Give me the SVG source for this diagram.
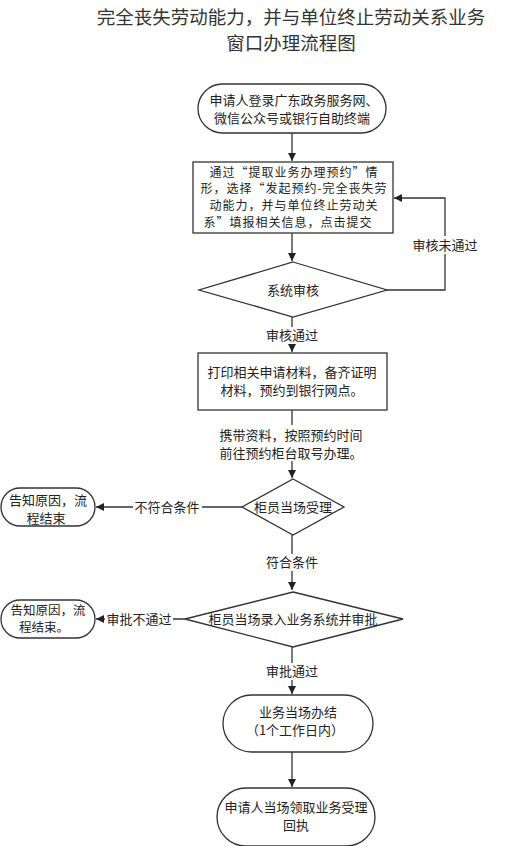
<svg xmlns="http://www.w3.org/2000/svg" width="525" height="846" viewBox="0 0 525 846">
<style>
text{font-family:"Noto Sans CJK SC","Noto Sans",sans-serif;fill:#222;font-size:13px;text-anchor:middle}
.title{font-size:18.5px;fill:#333}
.small{font-size:12px;letter-spacing:1px}
.shape{fill:#fff;stroke:#333;stroke-width:1.3}
.line{fill:none;stroke:#333;stroke-width:1.3}
.bg{fill:#fff}
</style>
<defs>
<marker id="arr" viewBox="0 0 10 10" refX="10" refY="5" markerWidth="8" markerHeight="8" markerUnits="userSpaceOnUse" orient="auto">
<path d="M0,0 L10,5 L0,10 z" fill="#222"/>
</marker>
</defs>
<rect width="525" height="846" fill="#fff"/>
<g id="title">
<text class="title"><tspan x="291" y="23.5">完全丧失劳动能力，并与单位终止劳动关系业务</tspan><tspan x="291" y="49.5">窗口办理流程图</tspan></text>
</g>
<g id="connectors">
<path class="line" d="M292,133 V161" marker-end="url(#arr)"/>
<path class="line" d="M292,233 V261" marker-end="url(#arr)"/>
<path class="line" d="M387,290 H445 V198 H394" marker-end="url(#arr)"/>
<path class="line" d="M292,317 V352" marker-end="url(#arr)"/>
<path class="line" d="M292,410 V478" marker-end="url(#arr)"/>
<path class="line" d="M242,507 H96" marker-end="url(#arr)"/>
<path class="line" d="M292,535 V590" marker-end="url(#arr)"/>
<path class="line" d="M185,619 H96" marker-end="url(#arr)"/>
<path class="line" d="M292,647 V694" marker-end="url(#arr)"/>
<path class="line" d="M292,752 V787" marker-end="url(#arr)"/>
<rect class="bg" x="411" y="236" width="68" height="18"/>
<text x="445" y="250">审核未通过</text>
<rect class="bg" x="265" y="327" width="54" height="17"/>
<text x="292" y="340">审核通过</text>
<rect class="bg" x="214" y="425" width="154" height="36"/>
<text><tspan x="291" y="440">携带资料，按照预约时间</tspan><tspan x="291" y="458">前往预约柜台取号办理。</tspan></text>
<rect class="bg" x="133" y="499" width="69" height="17"/>
<text x="167" y="512">不符合条件</text>
<rect class="bg" x="265" y="554" width="54" height="17"/>
<text x="292" y="567">符合条件</text>
<rect class="bg" x="105" y="611" width="68" height="17"/>
<text x="139" y="624">审批不通过</text>
<rect class="bg" x="265" y="663" width="54" height="17"/>
<text x="292" y="676">审批通过</text>
</g>
<g id="n1">
<rect class="shape" x="198" y="84" width="188" height="49" rx="24.5"/>
<text><tspan x="294" y="104.5">申请人登录广东政务服务网、</tspan><tspan x="292" y="122.5">微信公众号或银行自助终端</tspan></text>
</g>
<g id="n2">
<rect class="shape" x="193" y="162" width="200" height="71"/>
<text class="small"><tspan x="294" y="176.7">通过“提取业务办理预约”情</tspan><tspan x="294" y="193.3">形，选择“发起预约-完全丧失劳</tspan><tspan x="294" y="209.9">动能力，并与单位终止劳动关</tspan><tspan x="288" y="226.5">系”填报相关信息，点击提交</tspan></text>
</g>
<g id="n3">
<polygon class="shape" points="293,262 387,290 293,317 199,290"/>
<text x="293" y="295">系统审核</text>
</g>
<g id="n4">
<rect class="shape" x="198" y="353" width="189" height="57"/>
<text><tspan x="292" y="377">打印相关申请材料，备齐证明</tspan><tspan x="292" y="395">材料，预约到银行网点。</tspan></text>
</g>
<g id="n5">
<polygon class="shape" points="293,479 344,507 293,535 242,507"/>
<text x="293" y="512">柜员当场受理</text>
</g>
<g id="e1">
<rect class="shape" x="1" y="488" width="94" height="38" rx="19"/>
<text><tspan x="48" y="505">告知原因，流</tspan><tspan x="46" y="523">程结束</tspan></text>
</g>
<g id="n6">
<polygon class="shape" points="293,592 403,619 293,647 185,619"/>
<text x="293" y="624">柜员当场录入业务系统并审批</text>
</g>
<g id="e2">
<rect class="shape" x="1" y="600" width="94" height="38" rx="19"/>
<text style="font-size:12.5px"><tspan x="48" y="614.8">告知原因，流</tspan><tspan x="44" y="632.3">程结束。</tspan></text>
</g>
<g id="n7">
<rect class="shape" x="223" y="695" width="150" height="57" rx="28.5"/>
<text><tspan x="298" y="717">业务当场办结</tspan><tspan x="295" y="735">（1个工作日内）</tspan></text>
</g>
<g id="n8">
<rect class="shape" x="217" y="788" width="158" height="58" rx="29"/>
<text><tspan x="296" y="812">申请人当场领取业务受理</tspan><tspan x="296" y="830">回执</tspan></text>
</g>
</svg>
